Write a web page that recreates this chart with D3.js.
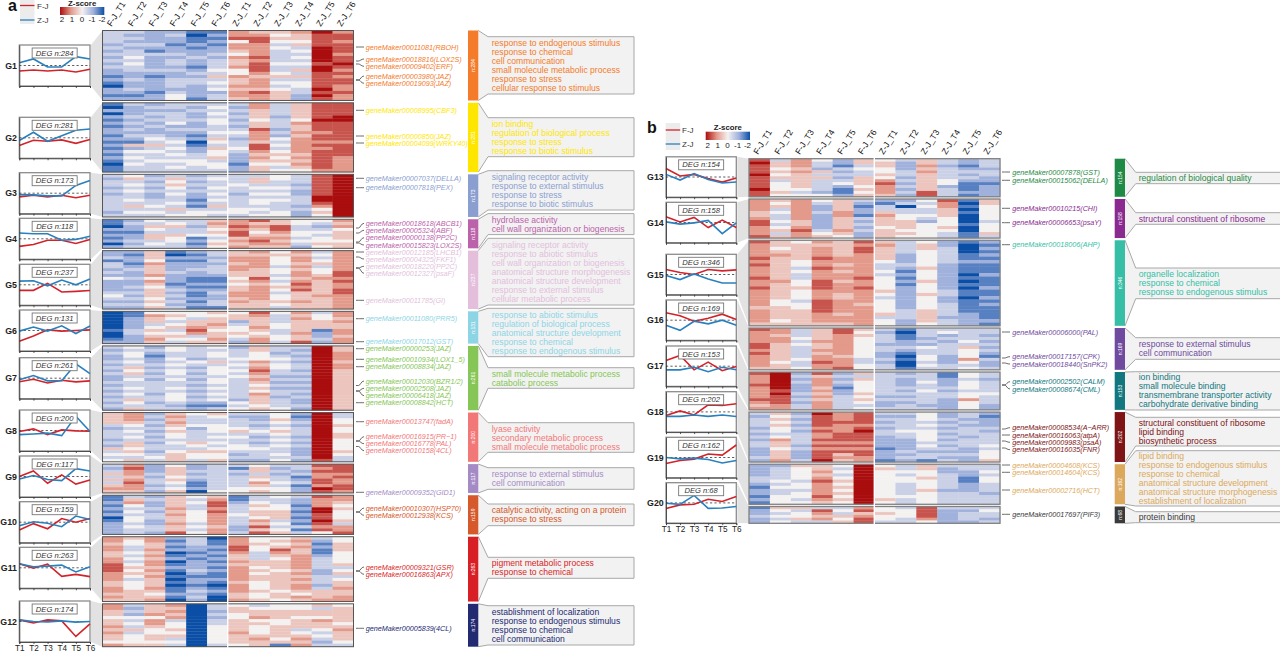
<!DOCTYPE html>
<html><head><meta charset="utf-8">
<script src="https://cdn.jsdelivr.net/npm/d3@7"></script>
<style>html,body{margin:0;padding:0;background:#fff;overflow:hidden}svg{display:block}text{font-family:"Liberation Sans",Arial,sans-serif}</style>
</head><body><svg id="c" width="1280" height="653"></svg>
<script>
/* ---------- DATA ---------- */
const conditions=["F-J_T1","F-J_T2","F-J_T3","F-J_T4","F-J_T5","F-J_T6","Z-J_T1","Z-J_T2","Z-J_T3","Z-J_T4","Z-J_T5","Z-J_T6"];
const timeLabels=["T1","T2","T3","T4","T5","T6"];
const legendTicks=[2,1,0,-1,-2];
const groupNamesA=["G1","G2","G3","G4","G5","G6","G7","G8","G9","G10","G11","G12"];
const groupNamesB=["G13","G14","G15","G16","G17","G18","G19","G20"];
const degA=[284,281,173,118,237,131,261,200,117,159,263,174];
const degB=[154,158,346,169,153,202,162,68];
// mean z-score profiles
const fjA=[[-.27,-.22,-.27,-.22,-.32,-.18],[-.38,-.12,-.17,-.1,-.27,-.08],[-.18,-.1,-.18,-.1,-.22,-.1],[-.37,-.28,-.07,-.07,-.23,-.03],[-.27,-.27,.07,-.35,-.32,-.28],[-.52,-.27,.03,-.03,0,.03],[-.17,-.05,-.23,-.1,-.18,-.13],[-.05,.08,-.2,.03,-.02,-.03],[0,.27,-.33,.08,-.37,-.17],[-.38,-.07,-.32,.18,0,.18],[.2,-.02,.18,-.42,-.32,-.43],[.08,-.07,.08,.03,-.73,-.12]];
const zjA=[[.13,.32,-.07,-.07,.43,.32],[-.13,.27,-.17,.1,.37,.43],[-.07,-.08,-.13,-.13,.38,.62],[.28,.25,.25,-.07,-.03,.12],[.18,.2,-.05,.23,0,.28],[-.03,.17,-.03,.23,-.15,.22],[-.08,.13,-.13,-.12,.7,.22],[-.2,-.17,-.13,-.25,.7,-.05],[-.12,.05,-.15,-.2,.38,.27],[-.17,.02,-.05,-.22,.3,.13],[.2,.05,.08,.13,-.2,.05],[.08,0,-.02,.03,-.03,0]];
const fjB=[[.42,.05,.13,-.08,-.25,-.05],[.28,.03,.25,-.25,.12,-.25],[.25,.1,0,.25,.18,.23],[.37,.22,-.05,.1,.3,.03],[.28,.53,-.18,.2,-.22,-.02],[-.18,.05,-.15,.35,.32,.4],[-.3,-.15,-.08,.17,.12,.62],[-.28,-.1,-.07,.18,.07,.32]];
const zjB=[[.13,-.15,.17,-.12,-.3,-.25],[.03,-.08,-.02,.1,-.55,-.02],[-.05,-.25,.03,-.22,-.42,-.42],[-.25,-.5,-.05,-.18,0,-.25],[-.18,-.18,-.05,-.27,-.05,-.18],[-.22,-.22,-.15,-.22,-.15,-.23],[0,-.07,-.03,-.1,-.27,-.15],[-.02,-.07,.37,-.27,-.25,-.18]];
// heatmap: one string per condition, one digit per stripe; digit d means z = (d-4)/2
const heatG1=["3333232323232212102212","3232323343433223223212","2222321322223212222122","2322122323323223332344","1011212232212323322221","1212122323334353434233","6674665465564465565665","5677666676777656665766","5454343333433453434555","6554534343435353443322","8777788888788777778787","6776777677876767766766"];
const heatG2=["1020212122121212121011","3222323232321524343433","2323232322343534334333","3323334232234343434343","3232232232120122334433","3434344334354354453443","3232323234323343222122","6655545576665776565455","3333233323243434545434","5555546556566666565654","7777787776776767777776","7777887777776777766666"];
const heatG3=["32332323333323","45343433435343","23232322334343","35454343343534","23232322121344","34334343435343","33343323333443","35534343443434","44334343433344","33323223332322","77777778876454","88888888888888"];
const heatG4=["1102121202","2322122323","4354355343","3453354433","3323341212","5654543454","6676775656","7565456765","5577656565","4433443432","4323434454","6564555455"];
const heatG5=["22313323242222343232","21221232232232323232","55546555646545554545","10212223222123232323","21212232211212112121","33232333211212322331","55665665545455665655","65666655576566666555","45444344343454344543","65665656656767555655","34345344565555565555","66666667767667766666"];
const heatG6=["00000010012","11222233222","46553454565","45434534543","44355676345","54556545565","45523445432","76555654566","43334433443","65655556557","34455512232","66565566566"];
const heatG7=["3232232323223232323232","4344343545343343435435","2321223232323333233233","4433434344343343444323","3333243232323232323212","4344353444344343434213","2333434343433333332434","5544465676565454655545","3323434433232323323334","3232323323232323232232","8888888888888888888888","5566656655555555555555"];
const heatG8=["55553233323253434","66654343435545435","23232323232332343","56565454434334555","43334233335435443","54334443434345445","32333453433443232","32232343232343332","44543454343433434","21232333232322232","88888888888888887","33445445544445433"];
const heatG9=["3235353565","6766567665","2223233232","4555454345","2232321120","3333333334","3132333344","4553546545","3232334344","3323123122","7676677687","7776766776"];
const heatG10=["1121212012222","3564343443433","2322323322332","5555656556557","4343344443434","5677676666566","1123334333223","3345455465757","4334455534345","3221212121313","7666887787674","6654544453667"];
const heatG11=["6656655667776665566565","5443343434545434445555","6655656566565655565456","2121201201210101011210","3332212122232122123232","0112121212121121012100","6667765565666665666556","4454433355454554445445","4545765455545555554554","5656556666656565665465","3212112333322333235556","4455544445345345565566"];
const heatG12=["66554556565546","32324343534445","55564665445545","65656344545343","00000000000000","33232334444443","45544555565554","34556454445655","44555445555451","44554555345656","53554655434323","45555545655543"];
const heatG13=["7877787777877","3554545344454","6665655555434","4332535333324","2213232342112","5534335554545","4554454676665","3222332323232","5565655555577","3323333442333","2212323211121","3332332212222"];
const heatG14=["6666556776667","5453433434535","6666666556766","4322322222345","5555665555654","3212213232322","2133565554555","2303344555454","4343343244444","7665554445433","1010100010011","5544444344453"];
const heatG15=["76666767666766766666566665","55456555555565555544555545","45555544343344544434455555","65666766766677766677776665","55555665656656665566665665","76776666666766766665666666","56555543343444454344445344","33332223212121222222233322","45544444544454445444455554","22333332222222233223333233","10001121110101011011112222","21212121112111211212111121"];
const heatG16=["76666776766665","66566555555455","33343433334334","55556556566766","77666666656667","54544444443344","32333233223233","10112232101001","33323243344343","34232333322233","33334354446434","33232323213223"];
const heatG17=["7666766667656","8888887877766","2323222323233","7566656565666","2323212233333","5354444545434","3333333323223","2322232323233","3334334333323","1122232332222","4434443446444","3323333433322"];
const heatG18=["32333232323322232","54545443465545556","23232323333232223","87777676676767778","66676667776767565","77776787776767766","32323233222212221","32333343322223232","44434344443432331","22323232323232323","33232333233322322","21222323333434445"];
const heatG19=["2222332122121","2333343433444","5444434434434","5565676666765","4343454545454","8888888888888","4544444444454","3343443333433","5544544454444","3223333323333","3322112223333","3343443332333"];
const heatG20=["122322","543434","534453","376563","343545","675677","445443","344433","777764","322222","323332","343323"];
const heatA=[heatG1,heatG2,heatG3,heatG4,heatG5,heatG6,heatG7,heatG8,heatG9,heatG10,heatG11,heatG12];
const heatB=[heatG13,heatG14,heatG15,heatG16,heatG17,heatG18,heatG19,heatG20];
// GO terms
const termsA=[["response to endogenous stimulus","response to chemical","cell communication","small molecule metabolic process","response to stress","cellular response to stimulus"],["ion binding","regulation of biological process","response to stress","response to biotic stimulus"],["signaling receptor activity","response to external stimulus","response to stress","response to biotic stimulus"],["hydrolase activity","cell wall organization or biogenesis"],["signaling receptor activity","response to abiotic stimulus","cell wall organization or biogenesis","anatomical structure morphogenesis","anatomical structure development","response to external stimulus","cellular metabolic process"],["response to abiotic stimulus","regulation of biological process","anatomical structure development","response to chemical","response to endogenous stimulus"],["small molecule metabolic process","catabolic process"],["lyase activity","secondary metabolic process","small molecule metabolic process"],["response to external stimulus","cell communication"],["catalytic activity, acting on a protein","response to stress"],["pigment metabolic process","response to chemical"],["establishment of localization","response to endogenous stimulus","response to chemical","cell communication"]];
const termsB=[["regulation of biological quality"],["structural constituent of ribosome"],["organelle localization","response to chemical","response to endogenous stimulus"],["response to external stimulus","cell communication"],["ion binding","small molecule binding","transmembrane transporter activity","carbohydrate derivative binding"],["structural constituent of ribosome","lipid binding","biosynthetic process"],["lipid binding","response to endogenous stimulus","response to chemical","anatomical structure development","anatomical structure morphogenesis","establishment of localization"],["protein binding"]];
// genes: label text and owning group
const genesA=[["00011081(RBOH)",0],["00018816(LOX2S)",0],["00009402(ERF)",0],["00003980(JAZ)",0],["00019093(JAZ)",0],["00008995(CBF3)",1],["00000850(JAZ)",1],["00004099(WRKY40)",1],["00007037(DELLA)",2],["00007818(PEX)",2],["00018618(ABCB1)",3],["00005324(ABF)",3],["00000138(PP2C)",3],["00015823(LOX2S)",3],["00012185(LHCB1)",4],["00004325(FKF1)",4],["00018220(PP2C)",4],["00012327(psaF)",4],["00011785(GI)",4],["00011080(PRR5)",5],["00017012(GST)",5],["00000253(JAZ)",6],["00010934(LOX1_5)",6],["00008834(JAZ)",6],["00012030(BZR1/2)",6],["00002508(JAZ)",6],["00006418(JAZ)",6],["00008842(HCT)",6],["00013747(fadA)",7],["00016915(PR\u22121)",7],["00016778(PAL)",7],["00010158(4CL)",7],["00009352(GID1)",8],["00010307(HSP70)",9],["00012938(KCS)",9],["00009321(GSR)",10],["00016863(APX)",10],["00005839(4CL)",11]];
const genesB=[["00007878(GST)",0],["00015062(DELLA)",0],["00010215(CHI)",1],["00006653(psaY)",1],["00018006(AHP)",2],["00006000(PAL)",3],["00017157(CPK)",3],["00018440(SnPK2)",3],["00002502(CALM)",4],["00008674(CML)",4],["00008534(A\u2212ARR)",5],["00016063(atpA)",5],["00009983(psaA)",5],["00016035(FNR)",5],["00004608(KCS)",6],["00014604(KCS)",6],["00002716(HCT)",6],["00017697(PIF3)",7]];

/* ---------- LAYOUT & STYLE (separate from the data) ---------- */
const colorsA=["#f47b2a","#ffe600","#8a9fd0","#bb62aa","#e3bfdc","#8dd5e5","#86c656","#f27878","#a58bc6","#d5592a","#d81f26","#232a72"];
const colorsB=["#1f8a46","#8a2a91","#36bfa6","#6f4a9e","#12777f","#7e1416","#dca95c","#3a3a3a"];
const layA={heatX:[102.5,353.5],gapX:227.7,heatTop:30.5,heatBot:646.7,gap:2.3,
 barX:[468,478.3],tipX:488,boxR:634,textX:491.7,
 lineX:[19.3,90],lineH:41,lineTop:[45,117.3,172.7,218.3,264.3,310,357.7,410,456,501.7,547.3,601],
 labelX:365.7,leadX:[356,364],groupX:17,
 boxY:[[36.7,94],[117.7,156.7],[170.7,210],[213.6,234.6],[238.3,305],[308.3,356.7],[367.7,388.3],[422.7,452.3],[467.7,489.3],[504,525.7],[557.3,578.3],[605.7,645]],
 geneY:[47,59,66.3,76,83.3,110.3,136,143,178.3,187.7,223.3,230.3,237.7,245,252,259,266.3,273.3,300.3,318.7,341.7,348.7,359.3,366.7,381,388.3,395.7,402.7,421.7,436.7,443.7,450.7,492.3,508,515.3,567,574.3,628.3],
 leadY:[47,61,64,80,80,110.3,136,143,178.3,187.7,228,233,242,243,252,257,268,268,300.3,318.7,341.7,348.7,359.3,366.7,385.5,391,391,402.7,421.7,441,441,446.5,492.3,512,512,571,571,628.3],
 colLabelY:27,heatStroke:"#555",heatSW:1,
 lg:{letter:"a",lx:8,ly:10.5,rect:[20,0,14.5,24],ry:[5.5,20],tx:37,gx:[60,104.3],gy:[7,15],ty:21.5,tick0:62,tickStep:10,titleY:5.8}};
const layB={heatX:[749,1000],gapX:874.3,heatTop:158.7,heatBot:523.3,gap:2.2,
 barX:[1114.7,1125],tipX:1135.7,boxR:1290,textX:1138.7,
 lineX:[666,736.3],lineH:40.4,lineTop:[156.8,202.3,254.3,300,346,391.7,437.3,482.7],
 labelX:1012.3,leadX:[1002,1010],groupX:663.7,
 boxY:[[172.3,183.7],[212.7,224.3],[268,298.7],[337.7,359.3],[371.7,410],[417.3,446],[450.7,506],[511.7,522.7]],
 geneY:[172,180.3,208.3,222.7,244.7,332,356.7,364,381.7,389,427.7,435,442.3,449.7,465,472.3,490,514.3],
 leadY:[172,180.3,208.3,222.7,244.7,332,358,363,385,385,429,435,441,448,465,472.3,490,514.3],
 colLabelY:155,heatStroke:"#808080",heatSW:1.3,
 lg:{letter:"b",lx:647,ly:133,rect:[665.7,123,14.5,27],ry:[130,144],tx:682,gx:[705.7,750],gy:[131.7,140],ty:148,tick0:707.7,tickStep:9.95,titleY:129.5}};

/* ---------- SCALES ---------- */
const heatColor=d3.scaleLinear().domain([-2,-1,0,1,2]).range(["#0b4ea6","#a0b1dc","#f4f1f1","#e39a8b","#aa0d0e"]);
const levelToZ=ch=>(+ch-4)/2;
const svg=d3.select("#c");
const defs=svg.append("defs");
const soft=defs.append("filter").attr("id","soft").attr("color-interpolation-filters","sRGB");
soft.append("feGaussianBlur").attr("stdDeviation","0.35 0.5");

function panel(names,deg,heat,fj,zj,terms,genes,colors,L,id){
  const g=svg.append("g");
  // vertical scale: stacked group tops proportional to DEG counts
  const total=d3.sum(deg), n=deg.length;
  const perRow=(L.heatBot-L.heatTop-(n-1)*L.gap)/total;
  const cum=d3.cumsum(deg);
  const spans=deg.map((d,i)=>{const top=L.heatTop+(i?cum[i-1]:0)*perRow+i*L.gap;return [top,top+d*perRow];});

  // funnels
  g.append("g").selectAll("polygon").data(spans).join("polygon")
   .attr("fill","#e2e2e2")
   .attr("points",(s,i)=>[[L.lineX[1]+1,L.lineTop[i]],[L.heatX[0],s[0]],[L.heatX[0],s[1]],[L.lineX[1]+1,L.lineTop[i]+L.lineH]].join(" "));

  // heatmaps
  const mid=L.gapX;
  const cx=d3.scaleBand().domain(conditions).range(L.heatX);
  spans.forEach((s,i)=>{
    const gg=g.append("g").attr("filter","url(#soft)");
    heat[i].forEach((col,c)=>{
      const levels=col.split("").map((ch,k)=>({k,z:levelToZ(ch)}));
      const ry=d3.scaleBand().domain(levels.map(d=>d.k)).range(s);
      gg.selectAll(null).data(levels).join("rect")
        .attr("x",cx(conditions[c])).attr("width",cx.bandwidth()+.3)
        .attr("y",d=>ry(d.k)).attr("height",ry.bandwidth()+.3)
        .attr("fill",d=>heatColor(d.z));
    });
    g.append("rect").attr("x",L.heatX[0]).attr("y",s[0]).attr("width",L.heatX[1]-L.heatX[0]).attr("height",s[1]-s[0])
     .attr("fill","none").attr("stroke",L.heatStroke).attr("stroke-width",L.heatSW);
  });
  g.append("line").attr("x1",mid).attr("x2",mid).attr("y1",L.heatTop-1).attr("y2",L.heatBot+1).attr("stroke","#fff").attr("stroke-width",1.4);

  // condition labels
  g.append("g").selectAll("text").data(conditions).join("text")
   .attr("transform",d=>`translate(${cx(d)+cx.bandwidth()/2-1.5},${L.colLabelY}) rotate(-58)`)
   .attr("font-size",8.6).attr("fill","#111").text(d=>d);

  // line panels
  const lx=d3.scalePoint().domain(timeLabels).range(L.lineX);
  names.forEach((name,i)=>{
    const top=L.lineTop[i], H=L.lineH;
    const ly=d3.scaleLinear().domain([-1,1]).range([top+H,top]);
    const lg=g.append("g");
    lg.append("rect").attr("x",L.lineX[0]).attr("y",top).attr("width",L.lineX[1]-L.lineX[0]).attr("height",H).attr("fill","#fff").attr("stroke","#8c8c8c").attr("stroke-width",1.3);
    lg.append("line").attr("x1",L.lineX[0]).attr("x2",L.lineX[1]).attr("y1",ly(0)).attr("y2",ly(0)).attr("stroke","#333").attr("stroke-width",.8).attr("stroke-dasharray","2.2,2.2");
    const line=d3.line().x((d,k)=>lx(timeLabels[k])).y(d=>ly(d));
    lg.append("path").attr("d",line(fj[i])).attr("fill","none").attr("stroke","#d2232a").attr("stroke-width",1.6);
    lg.append("path").attr("d",line(zj[i])).attr("fill","none").attr("stroke","#2a80bd").attr("stroke-width",1.6);
    // axes
    const isLast=i===names.length-1;
    const ax=lg.append("g").attr("transform",`translate(0,${top+H})`).call(d3.axisBottom(lx).tickSize(2).tickPadding(1.5).tickFormat(isLast?d=>d:()=>""));
    ax.selectAll("path,line").attr("stroke","#333").attr("stroke-width",.8);
    ax.selectAll("text").attr("font-size",8.2).attr("fill","#222").attr("font-family",'"Liberation Sans",Arial,sans-serif');
    const ay=lg.append("g").attr("transform",`translate(${L.lineX[0]},0)`).call(d3.axisLeft(ly).tickValues([]).tickSize(0));
    ay.selectAll("path").attr("stroke","#333").attr("stroke-width",.8);
    // DEG label
    const cxm=(L.lineX[0]+L.lineX[1])/2;
    lg.append("rect").attr("x",cxm-22.5).attr("y",top+3).attr("width",45).attr("height",10).attr("fill","#fff").attr("stroke","#777").attr("stroke-width",.9);
    lg.append("text").attr("x",cxm).attr("y",top+10.6).attr("text-anchor","middle").attr("font-size",7.6).attr("font-style","italic").attr("fill","#333").text("DEG n:"+deg[i]);
    // group label
    g.append("text").attr("x",L.groupX).attr("y",ly(0)+3).attr("text-anchor","end").attr("font-size",8.8).attr("font-weight","bold").attr("fill","#222").text(name);
  });

  // genes
  const gg=g.append("g");
  genes.forEach((d,k)=>{
    const y=L.geneY[k], y0=L.leadY[k];
    const path=d3.path();
    path.moveTo(L.leadX[0],y0);
    path.lineTo(L.leadX[0]+2.5,y0);
    path.bezierCurveTo(L.leadX[0]+4.5,y0,L.leadX[1]-3,y,L.leadX[1],y);
    gg.append("path").attr("d",path.toString()).attr("fill","none").attr("stroke","#444").attr("stroke-width",.8);
    gg.append("text").attr("x",L.labelX).attr("y",y+2.6).attr("font-size",7.2).attr("font-style","italic").attr("fill",colors[d[1]]).text("geneMaker"+d[0]);
  });

  // colour bars & callouts
  spans.forEach((s,i)=>{
    g.append("path").attr("d",()=>{const p=d3.path(),b=L.boxY[i];p.moveTo(L.barX[1],s[0]);p.lineTo(L.tipX,b[0]);p.lineTo(L.boxR,b[0]);p.lineTo(L.boxR,b[1]);p.lineTo(L.tipX,b[1]);p.lineTo(L.barX[1],s[1]);return p.toString();})
     .attr("fill","#f2f2f2").attr("stroke","#a8a8a8").attr("stroke-width",1);
    g.append("rect").attr("x",L.barX[0]).attr("y",s[0]).attr("width",L.barX[1]-L.barX[0]).attr("height",s[1]-s[0]).attr("fill",colors[i]);
    g.append("text").attr("transform",`translate(${(L.barX[0]+L.barX[1])/2+1.8},${(s[0]+s[1])/2}) rotate(-90)`).attr("text-anchor","middle").attr("font-size",5).attr("fill","#fff").text("n:"+deg[i]);
    const b=L.boxY[i], lines=terms[i], step=9, h=(lines.length-1)*step;
    const yc=(b[0]+b[1])/2-h/2;
    g.append("g").selectAll("text").data(lines).join("text")
     .attr("x",L.textX).attr("y",(d,k)=>yc+k*step+3.1).attr("font-size",8.6).attr("fill",colors[i]).text(d=>d);
  });

  // legend
  const lg=L.lg;
  g.append("text").attr("x",lg.lx).attr("y",lg.ly).attr("font-size",16).attr("font-weight","bold").attr("fill","#111").text(lg.letter);
  g.append("rect").attr("x",lg.rect[0]).attr("y",lg.rect[1]).attr("width",lg.rect[2]).attr("height",lg.rect[3]).attr("fill","#ececec");
  [["F-J","#d2232a"],["Z-J","#2a80bd"]].forEach((d,k)=>{
    g.append("line").attr("x1",lg.rect[0]).attr("x2",lg.rect[0]+lg.rect[2]).attr("y1",lg.ry[k]).attr("y2",lg.ry[k]).attr("stroke",d[1]).attr("stroke-width",1.3);
    g.append("text").attr("x",lg.tx).attr("y",lg.ry[k]+3).attr("font-size",8).attr("fill","#333").text(d[0]);
  });
  const grad=defs.append("linearGradient").attr("id","grad"+id);
  d3.range(0,1.001,.125).forEach(t=>grad.append("stop").attr("offset",t).attr("stop-color",heatColor(2-4*t)));
  g.append("rect").attr("x",lg.gx[0]).attr("y",lg.gy[0]).attr("width",lg.gx[1]-lg.gx[0]).attr("height",lg.gy[1]-lg.gy[0]).attr("fill",`url(#grad${id})`);
  g.append("text").attr("x",(lg.gx[0]+lg.gx[1])/2).attr("y",lg.titleY).attr("text-anchor","middle").attr("font-size",7.8).attr("font-weight","bold").attr("fill","#222").text("Z-score");
  legendTicks.forEach((t,k)=>g.append("text").attr("x",lg.tick0+k*lg.tickStep).attr("y",lg.ty).attr("text-anchor","middle").attr("font-size",8).attr("fill","#222").text(t));
}
panel(groupNamesA,degA,heatA,fjA,zjA,termsA,genesA,colorsA,layA,"A");
panel(groupNamesB,degB,heatB,fjB,zjB,termsB,genesB,colorsB,layB,"B");
</script></body></html>
